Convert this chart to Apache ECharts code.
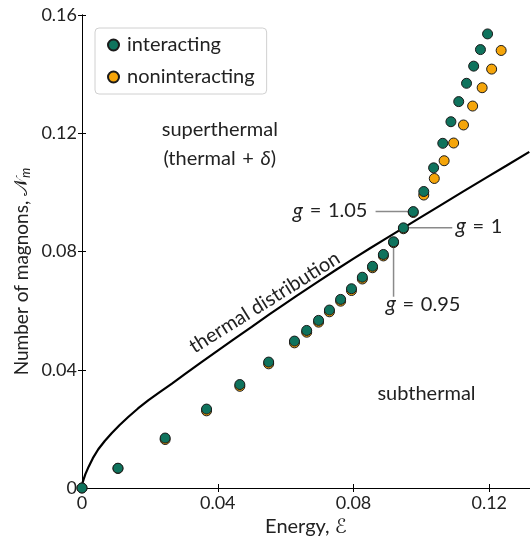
<!DOCTYPE html>
<html>
<head>
<meta charset="utf-8">
<script src="https://cdn.jsdelivr.net/npm/echarts@6/dist/echarts.min.js"></script>
<style>html,body{margin:0;padding:0;background:#fff;}#c{width:530px;height:542px;}</style>
</head>
<body>
<div id="c"></div>
<script>
// ---- data ----
const thermalE = [0, 0.0002, 0.0005, 0.001, 0.002, 0.0032, 0.0048, 0.0067, 0.0088, 0.0111, 0.0137, 0.0165, 0.0196, 0.0229, 0.0265, 0.0302, 0.035, 0.040, 0.045, 0.050, 0.0553, 0.059, 0.063, 0.069, 0.075, 0.080, 0.085, 0.090, 0.0947, 0.100, 0.105, 0.112, 0.119, 0.125, 0.1318];
const thermalN = [0, 0.0019, 0.0030, 0.0047, 0.0073, 0.0101, 0.0131, 0.0159, 0.0186, 0.0213, 0.0241, 0.0269, 0.0297, 0.0324, 0.0353, 0.0384, 0.0424, 0.0465, 0.0505, 0.0545, 0.0588, 0.0617, 0.0648, 0.0694, 0.0739, 0.0776, 0.0812, 0.0847, 0.088, 0.0917, 0.0952, 0.1001, 0.1049, 0.109, 0.1137];

const interE = [0, 0.0106, 0.0245, 0.0367, 0.0465, 0.055, 0.0626, 0.0662, 0.0697, 0.0729, 0.0762, 0.0794, 0.0826, 0.0856, 0.0888, 0.0918, 0.0947, 0.0976, 0.1007, 0.1036, 0.1063, 0.1087, 0.111, 0.1133, 0.1154, 0.1174, 0.1195];
const interN = [0, 0.0067, 0.0169, 0.0267, 0.035, 0.0426, 0.0497, 0.0533, 0.0567, 0.0602, 0.0638, 0.0674, 0.0713, 0.075, 0.079, 0.0833, 0.088, 0.0935, 0.1003, 0.1083, 0.1166, 0.1239, 0.1307, 0.1369, 0.1427, 0.1483, 0.1536];

const nonE = [0, 0.0106, 0.0245, 0.0367, 0.0465, 0.055, 0.0626, 0.0662, 0.0697, 0.0729, 0.0762, 0.0794, 0.0826, 0.0856, 0.0888, 0.0918, 0.0947, 0.0976, 0.1007, 0.1038, 0.1067, 0.1095, 0.1124, 0.1151, 0.1179, 0.1207, 0.1235];
const nonN = [0, 0.0066, 0.0164, 0.0261, 0.0344, 0.042, 0.0491, 0.0527, 0.0561, 0.0596, 0.0632, 0.0668, 0.0707, 0.0745, 0.0785, 0.083, 0.0877, 0.0932, 0.0991, 0.1047, 0.1107, 0.1167, 0.1228, 0.1292, 0.1354, 0.1417, 0.148];

const xTicks = [0, 0.04, 0.08, 0.12];
const yTicks = [0, 0.04, 0.08, 0.12, 0.16];

const SP = '\u2004';
// annotation anchors (data coordinates)
const gLabels = [
  {text: '{i|g}' + SP + '=' + SP + '1.05', line: [[0.0865, 0.0935], [0.0966, 0.0935]], at: [0.0841, 0.0937], align: 'right'},
  {text: '{i|g}' + SP + '=' + SP + '1', line: [[0.0953, 0.088], [0.1091, 0.088]], at: [0.1101, 0.0885], align: 'left'},
  {text: '{i|g}' + SP + '=' + SP + '0.95', line: [[0.0918, 0.0833], [0.0918, 0.0647]], at: [0.0895, 0.0622], align: 'left'}
];

const FONT = 'Lato, "DejaVu Sans", sans-serif';
const TXT = '#222';
const zip = (a, b) => a.map((v, i) => [v, b[i]]);

const chart = echarts.init(document.getElementById('c'), null, {renderer: 'canvas'});

const axisCommon = {
  type: 'value',
  axisLine: {show: true, lineStyle: {color: '#000', width: 1}},
  axisTick: {show: true, inside: true, length: 4, lineStyle: {color: '#000'}},
  splitLine: {show: false}
};

chart.setOption({
  animation: false,
  grid: {left: 82, top: 15, width: 449, height: 479},
  legend: {
    data: ['interacting', 'noninteracting'],
    orient: 'vertical',
    left: 95, top: 28,
    padding: [7, 12, 7, 12],
    itemGap: 12,
    itemWidth: 11, itemHeight: 11,
    icon: 'circle',
    borderColor: '#d0d0d0', borderWidth: 1, borderRadius: 4,
    backgroundColor: '#fff',
    textStyle: {fontFamily: FONT, fontSize: 20, color: TXT, padding: [0, 0, 0, 3]}
  },
  xAxis: [
    Object.assign({}, axisCommon, {
      min: 0, max: 0.132, interval: 0.04,
      name: 'Energy, ℰ', nameLocation: 'middle', nameGap: 29,
      nameTextStyle: {fontFamily: FONT, fontSize: 20, color: TXT},
      axisLabel: {
        fontFamily: FONT, fontSize: 18, color: TXT, margin: 6, showMaxLabel: false,
        formatter: v => (xTicks.indexOf(+v.toFixed(4)) >= 0 ? String(+v.toFixed(4)) : '')
      }
    }),
    Object.assign({}, axisCommon, {
      position: 'top', min: 0, max: 0.132, interval: 0.04,
      axisLabel: {show: false}
    })
  ],
  yAxis: [
    Object.assign({}, axisCommon, {
      min: 0, max: 0.16, interval: 0.04,
      axisLabel: {
        fontFamily: FONT, fontSize: 18, color: TXT, margin: 5,
        formatter: v => (yTicks.indexOf(+v.toFixed(4)) >= 0 ? String(+v.toFixed(4)) : '')
      }
    }),
    Object.assign({}, axisCommon, {
      position: 'right', min: 0, max: 0.16, interval: 0.04,
      axisLabel: {show: false}
    })
  ],
  series: [
    {
      name: 'thermal distribution', type: 'line', data: zip(thermalE, thermalN),
      smooth: false, showSymbol: false, symbol: 'none',
      lineStyle: {color: '#000', width: 2.2}, z: 2, clip: true
    },
    {
      name: 'noninteracting', type: 'scatter', data: zip(nonE, nonN),
      symbolSize: 10,
      itemStyle: {color: '#f5a50a', borderColor: '#1a1a1a', borderWidth: 1, opacity: 1}, z: 3
    },
    {
      name: 'interacting', type: 'scatter', data: zip(interE, interN),
      symbolSize: 10,
      itemStyle: {color: '#0f735d', borderColor: '#1a1a1a', borderWidth: 1, opacity: 1}, z: 4
    }
  ]
});

function px(p) { return chart.convertToPixel({gridIndex: 0}, p); }

const graphics = [];
gLabels.forEach(g => {
  const a = px(g.line[0]), b = px(g.line[1]);
  graphics.push({type: 'line', shape: {x1: a[0], y1: a[1], x2: b[0], y2: b[1]},
    style: {stroke: '#8a8a8a', lineWidth: 1.5}, z: 1});
  const t = px(g.at);
  graphics.push({type: 'text', x: t[0], y: t[1], z: 5,
    style: {text: g.text, fontFamily: FONT, fontSize: 20, fill: TXT, align: g.align, verticalAlign: 'middle',
      rich: {i: {fontFamily: FONT, fontSize: 21, fontStyle: 'italic', fill: TXT}}}});
});

const regionTexts = [
  {text: 'superthermal', at: [0.0406, 0.1213], rot: 0},
  {text: '(thermal' + SP + '+' + SP + '{i|δ})', at: [0.0406, 0.1113], rot: 0},
  {text: 'subthermal', at: [0.1015, 0.032], rot: 0},
  {text: 'thermal distribution', at: [0.0538, 0.0628], rot: 32}
];
regionTexts.forEach(r => {
  const t = px(r.at);
  graphics.push({type: 'text', x: t[0], y: t[1], rotation: r.rot * Math.PI / 180, z: 5,
    style: {text: r.text, fontFamily: FONT, fontSize: 20, fill: TXT, align: 'center', verticalAlign: 'middle',
      rich: {i: {fontFamily: FONT, fontSize: 20, fontStyle: 'italic', fill: TXT}}}});
});

// y-axis title, placed along the left margin
const yMid = (px([0, 0])[1] + px([0, 0.16])[1]) / 2 + 20;
graphics.push({type: 'text', x: 22, y: yMid, rotation: Math.PI / 2, z: 5,
  style: {text: 'Number of magnons, {s|𝒩}{m|m}', fontFamily: FONT, fontSize: 19, fill: TXT, align: 'center', verticalAlign: 'middle',
    rich: {s: {fontFamily: '"DejaVu Sans", sans-serif', fontSize: 19, fill: TXT},
           m: {fontFamily: FONT, fontSize: 13, fontStyle: 'italic', fill: TXT, padding: [8, 0, 0, 0]}}}});

chart.setOption({graphic: graphics});
</script>
</body>
</html>
